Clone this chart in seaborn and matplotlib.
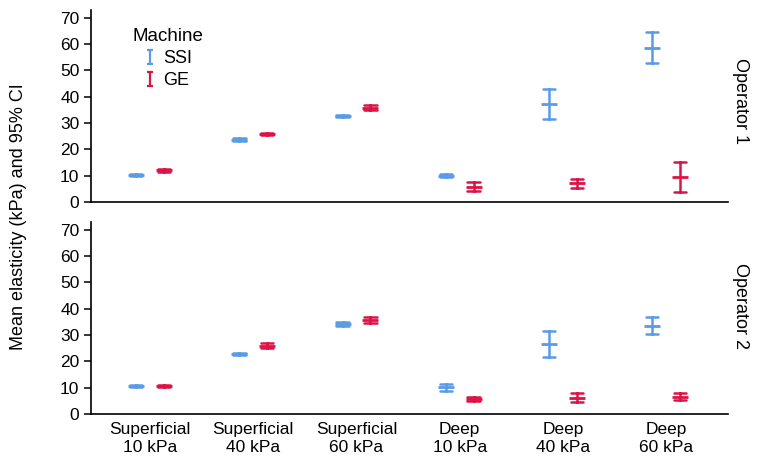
import pandas as pd
import matplotlib
matplotlib.use("Agg")
import matplotlib.pyplot as plt
from matplotlib.lines import Line2D
from matplotlib.path import Path
import seaborn as sns

# valores (media e IC 95%)
categorias = ["Superficial\n10 kPa", "Superficial\n40 kPa", "Superficial\n60 kPa",
              "Deep\n10 kPa", "Deep\n40 kPa", "Deep\n60 kPa"]
maquinas = ["SSI", "GE"]
operadores = ["Operator 1", "Operator 2"]

op1_ssi_media = [10.3, 23.7, 32.7, 10.0, 37.1, 58.7]
op1_ssi_inf = [9.9, 23.2, 32.2, 9.4, 31.4, 53.0]
op1_ssi_sup = [10.7, 24.2, 33.2, 10.6, 42.8, 64.5]
op1_ge_media = [12.0, 26.0, 35.9, 5.8, 7.1, 9.6]
op1_ge_inf = [11.5, 25.6, 34.9, 4.2, 5.2, 3.7]
op1_ge_sup = [12.5, 26.4, 36.9, 7.5, 8.6, 15.3]

op2_ssi_media = [10.5, 22.8, 34.1, 10.1, 26.5, 33.6]
op2_ssi_inf = [10.1, 22.4, 33.3, 8.9, 21.6, 30.2]
op2_ssi_sup = [10.9, 23.2, 34.9, 11.3, 31.7, 37.0]
op2_ge_media = [10.5, 25.9, 35.6, 5.6, 6.1, 6.6]
op2_ge_inf = [10.1, 24.9, 34.4, 4.8, 4.4, 5.3]
op2_ge_sup = [10.9, 26.9, 36.8, 6.4, 7.9, 7.9]

colores = {"SSI": "#5a9be6", "GE": "#dc1446"}


def armar_tabla(operador, datos):
    # tres filas por grupo: inferior, media y superior
    filas = []
    for maquina, (media, inf, sup) in datos.items():
        for i, cat in enumerate(categorias):
            for v in (inf[i], media[i], sup[i]):
                filas.append({"operador": operador, "maquina": maquina,
                              "categoria": cat, "valor": v})
    return pd.DataFrame(filas)


df = pd.concat([
    armar_tabla("Operator 1", {"SSI": (op1_ssi_media, op1_ssi_inf, op1_ssi_sup),
                               "GE": (op1_ge_media, op1_ge_inf, op1_ge_sup)}),
    armar_tabla("Operator 2", {"SSI": (op2_ssi_media, op2_ssi_inf, op2_ssi_sup),
                               "GE": (op2_ge_media, op2_ge_inf, op2_ge_sup)}),
])

sns.set_style("ticks")
plt.rcParams["font.family"] = ["Liberation Sans", "DejaVu Sans"]
plt.rcParams["text.color"] = "black"
plt.rcParams["axes.labelcolor"] = "black"
plt.rcParams["xtick.color"] = "black"
plt.rcParams["ytick.color"] = "black"

fig, axes = plt.subplots(2, 1, figsize=(7.6, 4.72), dpi=100, sharex=True)
fig.subplots_adjust(left=0.12, right=0.958, top=0.979, bottom=0.123, hspace=0.103)

for ax, operador in zip(axes, operadores):
    sns.pointplot(data=df[df["operador"] == operador], x="categoria", y="valor",
                  hue="maquina", order=categorias, hue_order=maquinas,
                  palette=colores, dodge=0.27, estimator="median",
                  errorbar=("pi", 100), capsize=0.12, linestyle="none",
                  marker="_", markersize=11, markeredgewidth=2,
                  err_kws={"linewidth": 1.8}, legend=False, ax=ax)
    ax.set_ylim(0, 73)
    ax.set_xlim(-0.57, 5.6)
    ax.set_yticks(range(0, 71, 10))
    ax.set_xlabel("")
    ax.set_ylabel("")
    ax.tick_params(axis="y", labelsize=12.5, length=5, width=1.1)
    ax.tick_params(axis="x", labelsize=12.5, length=0, pad=6)
    for s in ["left", "bottom"]:
        ax.spines[s].set_linewidth(1.2)
        ax.spines[s].set_color("black")
    sns.despine(ax=ax)

axes[0].text(1.019, 0.526, "Operator 1", transform=axes[0].transAxes,
             rotation=270, ha="center", va="center", fontsize=13)
axes[1].text(1.019, 0.5625, "Operator 2", transform=axes[1].transAxes,
             rotation=270, ha="center", va="center", fontsize=13)

fig.text(0.024, 0.54, "Mean elasticity (kPa) and 95% CI", rotation=90,
         ha="center", va="center", fontsize=13)

# icono tipo "I" para la leyenda
icono = Path([(-0.5, 1), (0.5, 1), (0, 1), (0, -1), (-0.5, -1), (0.5, -1)],
             [Path.MOVETO, Path.LINETO, Path.MOVETO, Path.LINETO,
              Path.MOVETO, Path.LINETO])
manijas = [Line2D([], [], linestyle="none", marker=icono, markersize=10,
                  markeredgewidth=1.6, color=colores[m]) for m in maquinas]
leg = axes[0].legend(manijas, maquinas, title="Machine", frameon=False,
                     loc="upper left", bbox_to_anchor=(0.05, 0.955),
                     fontsize=13, title_fontsize=13.5, handlelength=0.8,
                     handletextpad=0.3, labelspacing=0.3, borderpad=0)

plt.savefig("out.png", dpi=100)
